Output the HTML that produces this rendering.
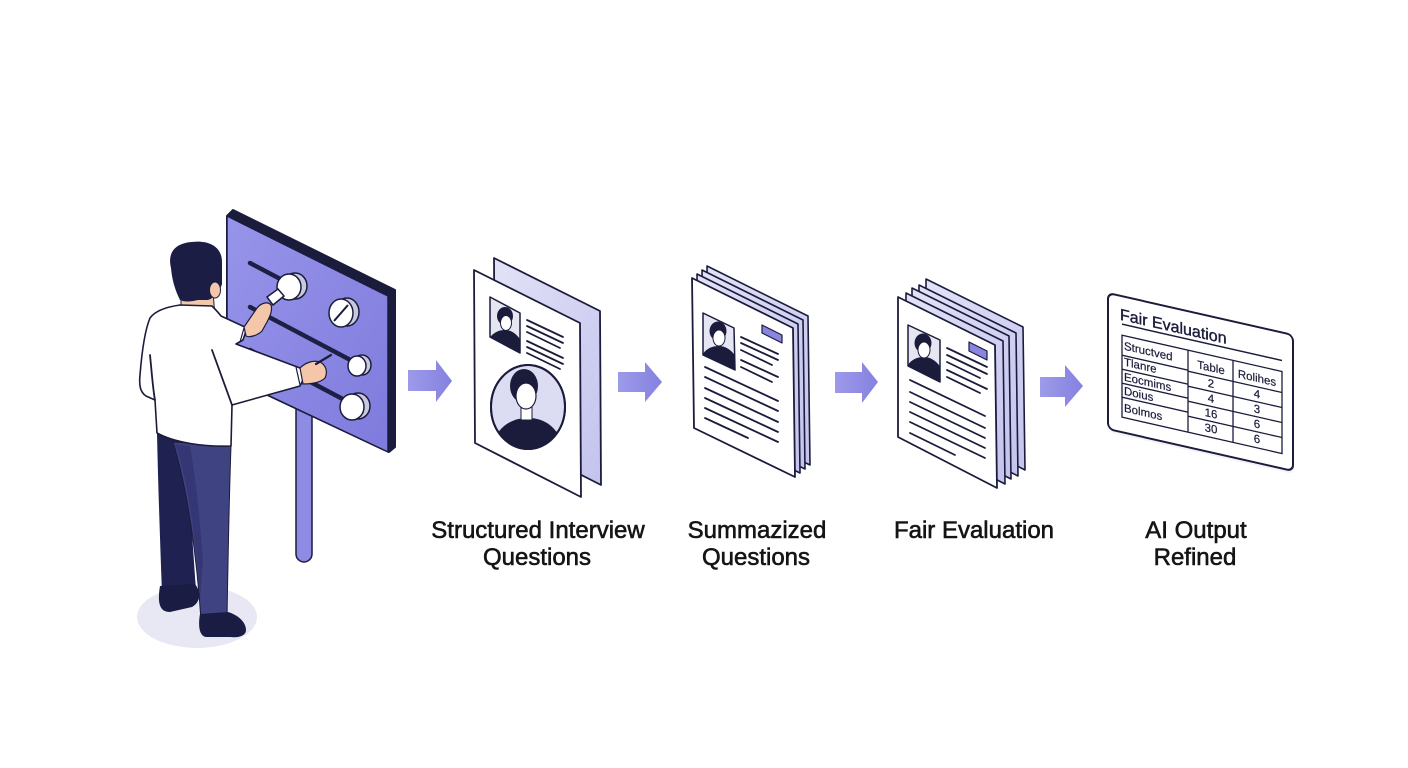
<!DOCTYPE html>
<html><head><meta charset="utf-8">
<style>
html,body{margin:0;padding:0;background:#fff;}
svg{display:block}
text{font-family:"Liberation Sans",sans-serif;}
.lbl{font-size:24px;fill:#151515;stroke:#151515;stroke-width:0.6px;text-anchor:middle;}
.ln{stroke:#1b1c3c;stroke-width:1.8;stroke-linecap:round;fill:none}
.tt{font-size:11.5px;fill:#1b1c3c;stroke:#1b1c3c;stroke-width:0.2px}
</style></head><body>
<svg width="1408" height="768" viewBox="0 0 1408 768" xmlns="http://www.w3.org/2000/svg">
<defs>
<linearGradient id="pg" x1="0" y1="0" x2="1" y2="1"><stop offset="0" stop-color="#9794ea"/><stop offset="1" stop-color="#7f7bdd"/></linearGradient>
<linearGradient id="ar" x1="0" x2="1"><stop offset="0" stop-color="#9d9aea"/><stop offset="1" stop-color="#8581e0"/></linearGradient>
<linearGradient id="bp" x1="0" y1="0" x2="1" y2="1"><stop offset="0" stop-color="#e2e2f7"/><stop offset="1" stop-color="#c4c3ee"/></linearGradient>
<clipPath id="c1"><polygon points="490,297 520,313 520,353 490,337"/></clipPath>
<clipPath id="c2"><ellipse cx="528" cy="407" rx="37" ry="42"/></clipPath>
<clipPath id="c3"><polygon points="703,313 734,328 735,370 703,355"/></clipPath>
<clipPath id="c4"><polygon points="908,325 940,340 940,382 908,366"/></clipPath>
</defs>

<!-- shadow -->
<ellipse cx="197" cy="617" rx="60" ry="31" fill="#e7e8f3"/>

<!-- pole -->
<rect x="296" y="400" width="16" height="162" rx="8" fill="#8e8be5" stroke="#1b1c3c" stroke-width="1.5"/>

<!-- panel -->
<polygon points="233,210 395,290 395,447 389,452 227,376 227,216" fill="#1b1c3c" stroke="#1b1c3c" stroke-width="2" stroke-linejoin="round"/>
<polygon points="227,216 388,296 388,452 227,376" fill="url(#pg)" stroke="#1b1c3c" stroke-width="1.5" stroke-linejoin="round"/>

<!-- tracks -->
<g stroke="#1e1f45" stroke-width="4.5" stroke-linecap="round">
<line x1="250" y1="263" x2="288" y2="283"/>
<line x1="250" y1="307" x2="358" y2="364"/>
<line x1="250" y1="350" x2="354" y2="405"/>
</g>
<!-- knobs -->
<g stroke="#1b1c3c" stroke-width="1.5">
<ellipse cx="295" cy="286" rx="12" ry="13" fill="#c9c9de"/>
<ellipse cx="289" cy="287" rx="12" ry="13" fill="#fff"/>
<ellipse cx="347" cy="312" rx="12" ry="14" fill="#c9c9de"/>
<ellipse cx="341" cy="313" rx="12" ry="14" fill="#fff"/>
<line x1="334" y1="321" x2="348" y2="305" stroke-width="2"/>
<ellipse cx="362" cy="365" rx="9" ry="10" fill="#c9c9de"/>
<ellipse cx="357" cy="366" rx="9" ry="10" fill="#fff"/>
<ellipse cx="358" cy="406" rx="12" ry="13" fill="#c9c9de"/>
<ellipse cx="352" cy="407" rx="12" ry="13" fill="#fff"/>
<polygon points="267,297 278,289 284,296 273,305" fill="#fff"/>
</g>

<!-- legs -->
<path d="M157,433 L185,440 C190,500 193,550 196,590 L162,594 C160,540 158,480 157,433 Z" fill="#1f2150"/>
<path d="M160,586 L195,584 C201,592 201,602 192,607 L170,612 C160,612 157,604 160,586 Z" fill="#1a1c44"/>
<path d="M173,442 L231,446 C229,500 228,560 227,618 L201,620 C197,560 188,490 173,442 Z" fill="#3f4382" stroke="#1b1c3c" stroke-width="1"/>
<path d="M175,444 L190,446 C196,480 200,520 203,560 L200,600 C196,540 188,480 175,444 Z" fill="#2d306a" opacity="0.6"/>
<path d="M200,614 L228,612 C238,615 246,622 246,630 C246,636 238,638 230,637 L206,637 C199,636 198,625 200,614 Z" fill="#1a1c44"/>

<!-- neck/head -->
<polygon points="181,294 213,291 215,317 181,313" fill="#f4c6aa" stroke="#1b1c3c" stroke-width="1"/>
<!-- shirt -->
<path d="M180,305 C166,307 155,311 150,318 C145,330 142,350 140,375 C139,385 140,392 146,396 L155,400 L157,433 C175,443 205,447 231,446 L232,405 L300,386 L304,378 L300,368 L236,344 L243,340 L247,328 L221,316 C218,312 214,308 212,306 Z" fill="#fff" stroke="#1b1c3c" stroke-width="1.6" stroke-linejoin="round"/>
<path d="M212,350 L232,405" class="ln" stroke-width="1.3"/>
<path d="M150,355 C152,375 153,390 155,400" class="ln" stroke-width="1.3"/>
<line x1="296" y1="367" x2="300" y2="385" stroke="#1b1c3c" stroke-width="1.2"/>
<line x1="240" y1="342" x2="244" y2="328" stroke="#1b1c3c" stroke-width="1.2"/>
<!-- hands -->
<path d="M244,327 L257,308 C261,303 268,301 271,305 C273,311 269,318 267,322 L262,331 C258,335 250,338 246,336 Z" fill="#f4c6aa" stroke="#1b1c3c" stroke-width="1.2"/>
<path d="M300,368 C306,362 314,360 320,362 C326,365 328,372 325,378 C320,383 310,384 303,384 Z" fill="#f4c6aa" stroke="#1b1c3c" stroke-width="1.2"/>
<line x1="316" y1="364" x2="331" y2="355" stroke="#1b1c3c" stroke-width="2.2" stroke-linecap="round"/>
<!-- hair -->
<path d="M171,268 C167,252 176,243 192,242 C208,240 222,246 222,262 L222,284 C220,292 214,298 208,300 L198,300 C190,302 184,302 180,300 C175,290 172,280 171,268 Z" fill="#1c1d44"/>
<ellipse cx="215" cy="290" rx="5.5" ry="8" fill="#f4c6aa" stroke="#1b1c3c" stroke-width="1"/>

<!-- arrows -->
<g fill="url(#ar)">
<polygon points="408,370 436,370 436,360 452,381 436,402 436,391 408,391"/>
<polygon points="618,372 645,372 645,362 662,382 645,402 645,392 618,392"/>
<polygon points="835,372 862,372 862,362 878,382 862,403 862,393 835,393"/>
<polygon points="1040,377 1065,377 1065,365 1083,386 1065,407 1065,397 1040,397"/>
</g>

<!-- doc1 -->
<g stroke="#1b1c3c" stroke-width="1.8" stroke-linejoin="round">
<polygon points="494,258 600,311 601,485 495,431" fill="url(#bp)"/>
<polygon points="474,270 580,323 581,497 475,443" fill="#fff"/>
<polygon points="490,297 520,313 520,353 490,337" fill="#e6e6f2" stroke-width="1.5"/>
</g>
<g clip-path="url(#c1)">
<path d="M486,345 C490,334 497,330 505,330 C513,330 519,336 524,346 L524,360 L486,360 Z" fill="#1b1c3c"/>
<ellipse cx="505" cy="316" rx="8" ry="9" fill="#1b1c3c"/>
<ellipse cx="506" cy="323" rx="5.5" ry="7.5" fill="#fff" stroke="#1b1c3c" stroke-width="1"/>
</g>
<g class="ln">
<line x1="527" y1="320" x2="563" y2="337"/><line x1="527" y1="326" x2="563" y2="343"/><line x1="527" y1="332" x2="560" y2="348"/>
<line x1="527" y1="341" x2="563" y2="358"/><line x1="527" y1="347" x2="563" y2="364"/><line x1="527" y1="353" x2="560" y2="369"/>
</g>
<ellipse cx="528" cy="407" rx="37" ry="42" fill="#dcdcf3" stroke="#1b1c3c" stroke-width="2"/>
<g clip-path="url(#c2)">
<path d="M490,450 C496,428 510,418 528,418 C546,418 558,428 566,450 Z" fill="#1b1c3c"/>
<rect x="521" y="402" width="11" height="18" fill="#fff" stroke="#1b1c3c" stroke-width="1"/>
<ellipse cx="524" cy="386" rx="14" ry="17" fill="#1b1c3c"/>
<ellipse cx="526" cy="396" rx="10" ry="13" fill="#fff" stroke="#1b1c3c" stroke-width="1.2"/>
<path d="M514,386 C518,380 528,378 536,384 L536,378 C530,372 516,372 512,380 Z" fill="#1b1c3c"/>
</g>
<ellipse cx="528" cy="407" rx="37" ry="42" fill="none" stroke="#1b1c3c" stroke-width="2"/>

<!-- doc2 -->
<g stroke="#1b1c3c" stroke-width="1.6" stroke-linejoin="round">
<polygon points="707,266 808,316 810,465 709,416" fill="url(#bp)"/>
<polygon points="702,270 803,320 805,469 704,420" fill="url(#bp)"/>
<polygon points="697,274 798,324 800,473 699,424" fill="url(#bp)"/>
<polygon points="692,278 793,328 795,477 694,428" fill="#fff" stroke-width="1.8"/>
<polygon points="703,313 734,328 735,370 703,355" fill="#e6e6f2" stroke-width="1.5"/>
<polygon points="762,325 782,335 782,343 762,333" fill="#8a86e0" stroke-width="1.2"/>
</g>
<g clip-path="url(#c3)">
<path d="M699,362 C703,350 710,346 719,346 C727,346 734,352 739,362 L739,380 L699,380 Z" fill="#1b1c3c"/>
<ellipse cx="718" cy="331" rx="8.5" ry="9.5" fill="#1b1c3c"/>
<ellipse cx="719" cy="338" rx="6" ry="8" fill="#fff" stroke="#1b1c3c" stroke-width="1"/>
</g>
<g class="ln">
<line x1="741" y1="337" x2="778" y2="354"/><line x1="741" y1="343" x2="778" y2="360"/><line x1="741" y1="350" x2="772" y2="365"/>
<line x1="741" y1="360" x2="778" y2="377"/><line x1="741" y1="367" x2="772" y2="382"/>
<line x1="705" y1="367" x2="778" y2="401"/><line x1="705" y1="377" x2="778" y2="411"/><line x1="705" y1="388" x2="778" y2="422"/>
<line x1="705" y1="398" x2="778" y2="432"/><line x1="705" y1="408" x2="778" y2="442"/><line x1="705" y1="418" x2="748" y2="438"/>
</g>

<!-- doc3 -->
<g stroke="#1b1c3c" stroke-width="1.6" stroke-linejoin="round">
<polygon points="926,279 1023,327 1025,470 926,419" fill="url(#bp)"/>
<polygon points="919,285 1016,333 1018,476 919,425" fill="url(#bp)"/>
<polygon points="912,288 1009,336 1011,479 912,428" fill="url(#bp)"/>
<polygon points="906,293 1003,341 1005,484 906,433" fill="url(#bp)"/>
<polygon points="898,297 995,345 997,488 898,437" fill="#fff" stroke-width="1.8"/>
<polygon points="908,325 940,340 940,382 908,366" fill="#e6e6f2" stroke-width="1.5"/>
<polygon points="969,342 987,351 987,360 969,351" fill="#8a86e0" stroke-width="1.2"/>
</g>
<g clip-path="url(#c4)">
<path d="M904,373 C908,361 915,357 924,357 C932,357 939,363 944,373 L944,390 L904,390 Z" fill="#1b1c3c"/>
<ellipse cx="923" cy="343" rx="8.5" ry="9.5" fill="#1b1c3c"/>
<ellipse cx="924" cy="350" rx="6" ry="8" fill="#fff" stroke="#1b1c3c" stroke-width="1"/>
</g>
<g class="ln">
<line x1="947" y1="348" x2="987" y2="367"/><line x1="947" y1="355" x2="987" y2="374"/><line x1="947" y1="362" x2="980" y2="378"/>
<line x1="947" y1="370" x2="987" y2="389"/><line x1="947" y1="377" x2="980" y2="393"/>
<line x1="910" y1="380" x2="985" y2="416"/><line x1="910" y1="392" x2="985" y2="428"/><line x1="910" y1="402" x2="985" y2="438"/>
<line x1="910" y1="412" x2="985" y2="448"/><line x1="910" y1="422" x2="985" y2="458"/><line x1="910" y1="433" x2="955" y2="455"/>
</g>

<!-- table card -->
<g transform="translate(1108 293) skewY(12.8)">
<rect x="1" y="3" width="185" height="136" rx="6" fill="#eceef4" opacity="0.7"/>
<rect x="0" y="0" width="185" height="136" rx="6" fill="#fff" stroke="#1b1c3c" stroke-width="2"/>
<text x="12" y="24" style="font-size:16px;fill:#1b1c3c;stroke:#1b1c3c;stroke-width:0.4px">Fair Evaluation</text>
<line x1="14" y1="28" x2="174" y2="28" stroke="#1b1c3c" stroke-width="1.5"/>
<g stroke="#1b1c3c" stroke-width="1.3" fill="none">
<rect x="14" y="39" width="160" height="82"/>
<line x1="80" y1="39" x2="80" y2="121"/><line x1="125" y1="39" x2="125" y2="121"/>
<line x1="14" y1="59" x2="80" y2="59"/><line x1="14" y1="73" x2="80" y2="73"/><line x1="14" y1="87" x2="80" y2="87"/><line x1="14" y1="101" x2="80" y2="101"/>
<line x1="80" y1="60" x2="174" y2="60"/><line x1="80" y1="75" x2="174" y2="75"/><line x1="80" y1="90" x2="174" y2="90"/><line x1="80" y1="105" x2="174" y2="105"/>
</g>
<text class="tt" x="16" y="53">Structved</text>
<text class="tt" x="16" y="69">Tlanre</text>
<text class="tt" x="16" y="84">Eocmims</text>
<text class="tt" x="16" y="98">Doius</text>
<text class="tt" x="16" y="115">Bolmos</text>
<g class="tt" text-anchor="middle">
<text x="103" y="55">Table</text><text x="103" y="71">2</text><text x="103" y="86">4</text><text x="103" y="101">16</text><text x="103" y="116">30</text>
<text x="149" y="55">Rolihes</text><text x="149" y="71">4</text><text x="149" y="86">3</text><text x="149" y="101">6</text><text x="149" y="116">6</text>
</g>
</g>

<!-- labels -->
<text class="lbl" x="538" y="538">Structured Interview</text>
<text class="lbl" x="537" y="565">Questions</text>
<text class="lbl" x="757" y="538">Summazized</text>
<text class="lbl" x="756" y="565">Questions</text>
<text class="lbl" x="974" y="538">Fair Evaluation</text>
<text class="lbl" x="1196" y="538">AI Output</text>
<text class="lbl" x="1195" y="565">Refined</text>
</svg>
</body></html>
